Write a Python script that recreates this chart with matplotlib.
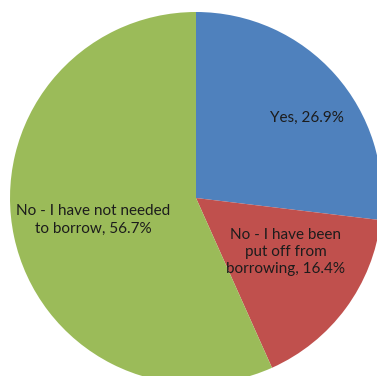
import matplotlib.pyplot as plt

# survey answers: have you borrowed?
labels = ["Yes", "No - I have been\nput off from\nborrowing", "No - I have not needed\nto borrow"]
shares = [26.9, 16.4, 56.7]
colors = ["#4F81BD", "#C0504D", "#9BBB59"]

# label anchors in axes units (pie centre at 0,0, radius 186)
label_xy = [(111, 80), (90, -54), (-103, -22)]

plt.rcParams["font.family"] = ["Lato", "DejaVu Sans"]

fig = plt.figure(figsize=(3.77, 3.76), dpi=100)
ax = fig.add_axes([0, 0, 1, 1])

ax.pie(shares, colors=colors, startangle=90, counterclock=False,
       radius=186, center=(0, 0), frame=True,
       wedgeprops=dict(linewidth=0))

for lab, val, (x, y) in zip(labels, shares, label_xy):
    ax.text(x, y, f"{lab}, {val:.1f}%", ha="center", va="center",
            fontsize=11, color="#1c1c1c", linespacing=1.3)

ax.set_xlim(-196, 181)
ax.set_ylim(-178, 198)
ax.set_aspect("equal")
ax.axis("off")

fig.savefig("out.png", dpi=100, facecolor="white")
